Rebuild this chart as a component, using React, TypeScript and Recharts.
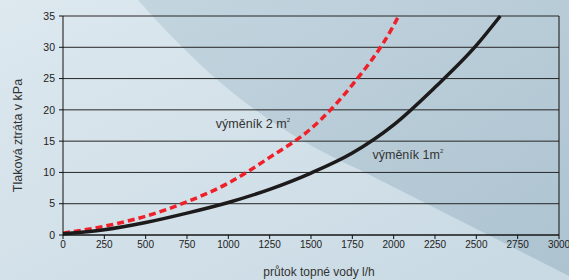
import { LineChart, Line, XAxis, YAxis, CartesianGrid, ReferenceLine, ReferenceDot } from 'recharts'

// výměník 1 m² (black solid)
const flow1 = [0, 250, 500, 750, 1000, 1250, 1500, 1750, 2000, 2250, 2500, 2645]
const loss1 = [0.2, 0.85, 2.0, 3.5, 5.2, 7.3, 9.9, 13.1, 17.6, 23.6, 30.3, 35]

// výměník 2 m² (red dashed)
const flow2 = [0, 250, 500, 750, 1000, 1250, 1500, 1750, 2000, 2030]
const loss2 = [0.3, 1.4, 3.0, 5.3, 8.3, 12.4, 17.0, 24.0, 33.5, 35]

const xTicks = [0, 250, 500, 750, 1000, 1250, 1500, 1750, 2000, 2250, 2500, 2750, 3000]
const yTicks = [0, 5, 10, 15, 20, 25, 30, 35]

const data1 = flow1.map((f, i) => ({ flow: f, loss: loss1[i] }))
const data2 = flow2.map((f, i) => ({ flow: f, loss: loss2[i] }))

const FONT = '"Liberation Sans", Arial, sans-serif'

function Annot({ cx, cy, text, sup }: { cx?: number; cy?: number; text: string; sup: string }) {
  if (cx == null || cy == null) return null
  return (
    <text x={cx} y={cy} fill="#333" fontSize={12.5} fontFamily={FONT}>
      {text}
      <tspan fontSize={6} dy={-6}>{sup}</tspan>
    </text>
  )
}

export default function App() {
  return (
    <div style={{ position: 'relative', width: 569, height: 280, fontFamily: FONT }}>
      <style>{'body{margin:0}'}</style>
      <svg width={569} height={280} style={{ position: 'absolute', left: 0, top: 0 }}>
        <defs>
          <linearGradient id="bgLight" x1="0" y1="0" x2="1" y2="1">
            <stop offset="0%" stopColor="#dde8ef" />
            <stop offset="100%" stopColor="#c8d9e3" />
          </linearGradient>
          <linearGradient id="bgDark" x1="0" y1="0" x2="1" y2="1">
            <stop offset="0%" stopColor="#c3d5df" />
            <stop offset="100%" stopColor="#adc3d0" />
          </linearGradient>
        </defs>
        <rect width={569} height={280} fill="url(#bgLight)" />
        <path d="M138,0 C200,70 260,125 360,170 L569,276 L569,0 Z" fill="url(#bgDark)" />
      </svg>
      <div style={{ position: 'absolute', left: 0, top: 0 }}>
        <LineChart width={569} height={280} margin={{ top: 16, right: 10, left: 0, bottom: 0 }}>
          <CartesianGrid horizontal vertical={false} stroke="#262626" strokeWidth={1} />
          <XAxis
            dataKey="flow"
            type="number"
            domain={[0, 3000]}
            ticks={xTicks}
            allowDuplicatedCategory={false}
            height={45}
            tickSize={4}
            tickMargin={2}
            stroke="#111"
            tick={{ fill: '#222', fontSize: 10, fontFamily: FONT }}
            label={{ value: 'průtok topné vody l/h', position: 'insideBottom', offset: 4, dx: 8, fill: '#333', fontSize: 12, fontFamily: FONT }}
          />
          <YAxis
            type="number"
            domain={[0, 35]}
            ticks={yTicks}
            width={63}
            tickSize={4}
            tickMargin={4}
            stroke="#111"
            tick={{ fill: '#222', fontSize: 10.5, fontFamily: FONT }}
            label={{ value: 'Tlaková ztráta v kPa', angle: -90, position: 'center', dx: -14, dy: 10, fill: '#333', fontSize: 12.5, fontFamily: FONT }}
          />
          <ReferenceLine x={3000} stroke="#111" strokeWidth={1} />
          <Line
            data={data2}
            dataKey="loss"
            type="monotone"
            stroke="#f0202a"
            strokeWidth={3.5}
            strokeDasharray="7 4"
            dot={false}
            isAnimationActive={false}
          />
          <Line
            data={data1}
            dataKey="loss"
            type="monotone"
            stroke="#1c1a1a"
            strokeWidth={3.5}
            dot={false}
            isAnimationActive={false}
          />
          <ReferenceDot x={924} y={17.1} r={1} shape={(p: any) => <Annot cx={p.cx} cy={p.cy} text="výměník 2 m" sup="2" />} />
          <ReferenceDot x={1872} y={12.2} r={1} shape={(p: any) => <Annot cx={p.cx} cy={p.cy} text="výměník 1m" sup="2" />} />
        </LineChart>
      </div>
    </div>
  )
}
